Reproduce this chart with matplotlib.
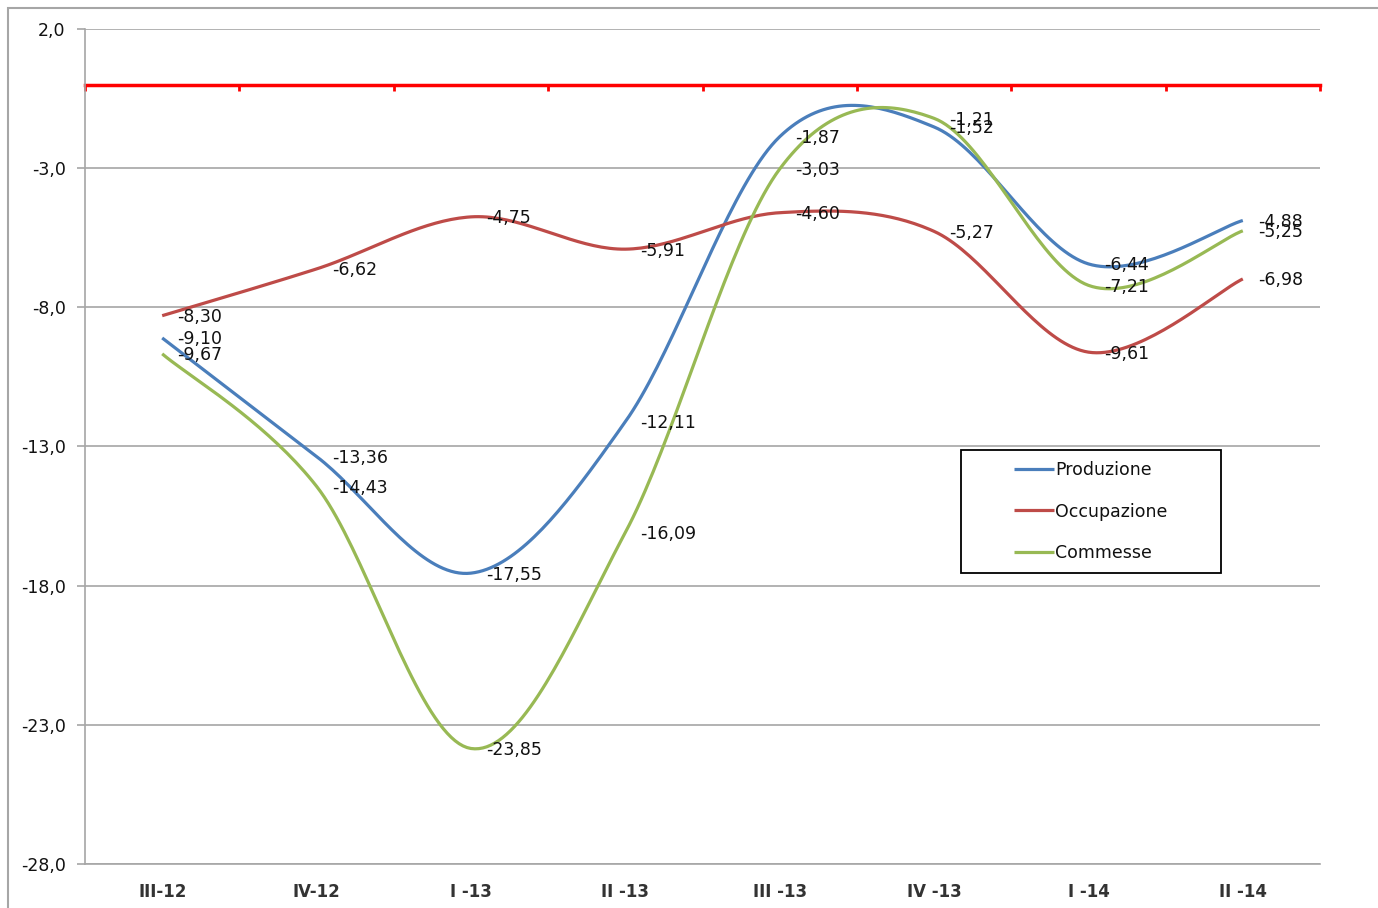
import numpy as np
import matplotlib.pyplot as plt
from matplotlib.patches import Rectangle
from matplotlib.ticker import FuncFormatter

plt.rcParams['font.family'] = ['DejaVu Sans']

quarters = ["III-12", "IV-12", "I -13", "II -13", "III -13", "IV -13", "I -14", "II -14"]
produzione = [-9.10, -13.36, -17.55, -12.11, -1.87, -1.52, -6.44, -4.88]
occupazione = [-8.30, -6.62, -4.75, -5.91, -4.60, -5.27, -9.61, -6.98]
commesse = [-9.67, -14.43, -23.85, -16.09, -3.03, -1.21, -7.21, -5.25]

series_names = ["Produzione", "Occupazione", "Commesse"]
colors = ["#4A7EBB", "#BE4B48", "#98B954"]

y_min, y_max = -28.0, 2.0
y_ticks = [2.0, -3.0, -8.0, -13.0, -18.0, -23.0, -28.0]
fs = 12.5


def smooth(x, y, n=40):
    # cubic bezier through the points, catmull-rom style tangents
    x = np.asarray(x, float)
    y = np.asarray(y, float)
    px = np.concatenate([[x[0]], x, [x[-1]]])
    py = np.concatenate([[y[0]], y, [y[-1]]])
    xs, ys = [], []
    t = np.linspace(0, 1, n)
    for i in range(len(x) - 1):
        p0 = np.array([px[i + 1], py[i + 1]])
        p3 = np.array([px[i + 2], py[i + 2]])
        c1 = p0 + (np.array([px[i + 2], py[i + 2]]) - np.array([px[i], py[i]])) / 6
        c2 = p3 - (np.array([px[i + 3], py[i + 3]]) - np.array([px[i + 1], py[i + 1]])) / 6
        b = ((1 - t) ** 3)[:, None] * p0 + (3 * (1 - t) ** 2 * t)[:, None] * c1 \
            + (3 * (1 - t) * t ** 2)[:, None] * c2 + (t ** 3)[:, None] * p3
        xs.extend(b[:, 0])
        ys.extend(b[:, 1])
    return np.array(xs), np.array(ys)


fig = plt.figure(figsize=(13.78, 9.08), dpi=100)
ax = fig.add_axes([85 / 1378, 1 - 864 / 908, 1235 / 1378, 835 / 908])

# chart border
fig.patches.append(Rectangle((8 / 1378, -0.1), 1.2, 900 / 908 + 0.1, transform=fig.transFigure,
                             fill=False, edgecolor="#a6a6a6", linewidth=1.5))

x = np.arange(len(quarters))
for name, vals, col in zip(series_names, [produzione, occupazione, commesse], colors):
    sx, sy = smooth(x, vals)
    ax.plot(sx, sy, color=col, linewidth=2.3, label=name, zorder=3, solid_capstyle='butt')
    for xi, v in zip(x, vals):
        ax.annotate(f"{v:.2f}".replace(".", ","), (xi, v), xytext=(11, -1),
                    textcoords="offset points", ha="left", va="center",
                    fontsize=fs, color="#111111", zorder=4)

ax.set_xlim(-0.5, len(quarters) - 0.5)
ax.set_ylim(y_min, y_max)
ax.set_yticks(y_ticks)
ax.yaxis.set_major_formatter(FuncFormatter(lambda v, p: f"{v:.1f}".replace(".", ",")))
ax.grid(axis="y", color="#a6a6a6", linewidth=1.2)
ax.set_axisbelow(True)
ax.tick_params(axis="y", length=6, width=1.2, color="#a6a6a6", pad=8,
               labelsize=fs, labelcolor="#111111")
ax.set_xticks(x)
ax.set_xticklabels(quarters, fontweight="bold", fontsize=12, color="#333333")
ax.tick_params(axis="x", length=0, pad=14)
for s in ["top", "right"]:
    ax.spines[s].set_visible(False)
for s in ["left", "bottom"]:
    ax.spines[s].set_color("#a6a6a6")
    ax.spines[s].set_linewidth(1.2)

# category axis crossing at zero
zero_axis = ax.secondary_xaxis((0 - y_min) / (y_max - y_min))
zero_axis.set_alignment("bottom")
zero_axis.set_xticks(np.arange(len(quarters) + 1) - 0.5)
zero_axis.set_xticklabels([])
zero_axis.spines["bottom"].set_color("#ff0000")
zero_axis.spines["bottom"].set_linewidth(2.5)
zero_axis.tick_params(axis="x", length=4, width=2, color="#ff0000", direction="out")

# legend: entries centred inside a fixed black box
box = (0.7093, 0.3485, 0.2105, 0.1473)
ax.add_patch(Rectangle(box[:2], box[2], box[3], transform=ax.transAxes, fill=True,
                       facecolor="white", edgecolor="#000000", linewidth=1.3, zorder=5))
leg = ax.legend(loc="center", bbox_to_anchor=(box[0] + box[2] / 2, box[1] + box[3] / 2),
                fontsize=fs, frameon=False, handlelength=2.3, handletextpad=0.05,
                labelspacing=1.35, borderpad=0, borderaxespad=0)
leg.set_zorder(6)
for t in leg.get_texts():
    t.set_color("#111111")

fig.savefig("out.png", dpi=100)
